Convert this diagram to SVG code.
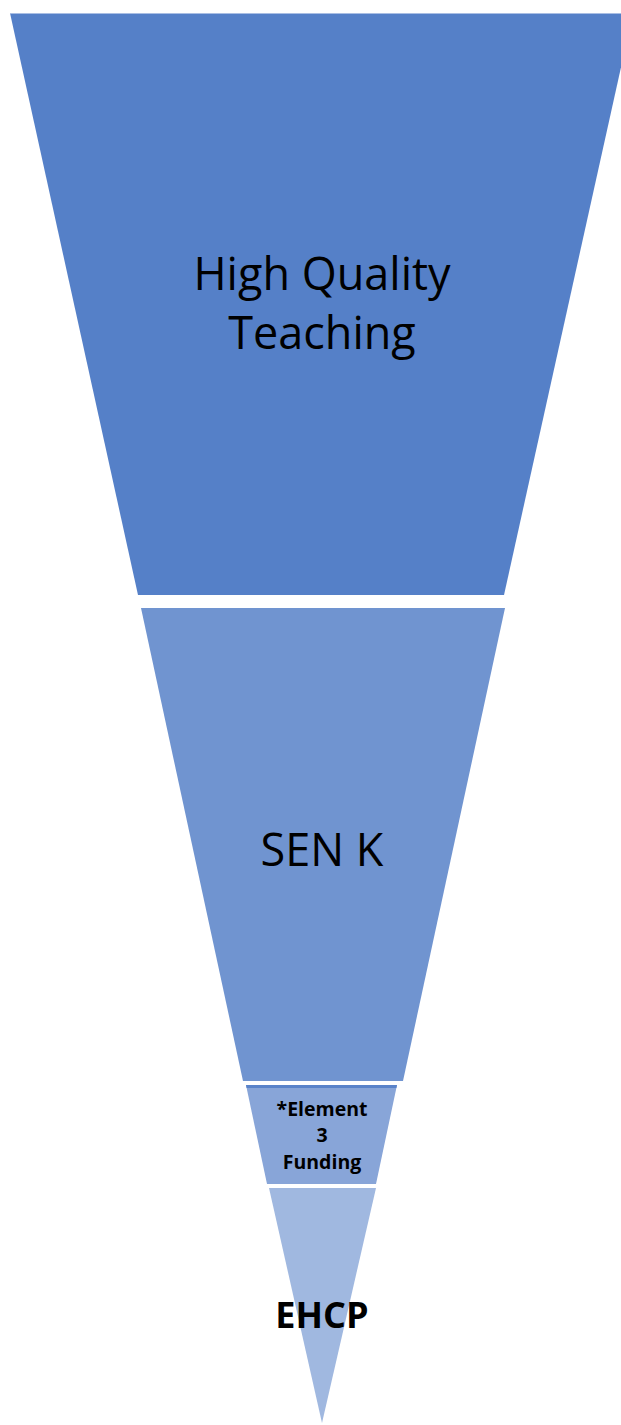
<svg xmlns="http://www.w3.org/2000/svg" width="621" height="1425" viewBox="0 0 621 1425">
<style>
.lbl{font-family:"Open Sans","Liberation Sans",sans-serif;fill:#000;text-anchor:middle}
.b{font-weight:bold}
</style>
<rect width="621" height="1425" fill="#fff"/>
<g id="hqt">
<polygon points="10,13 633,13 504,595 138,595" fill="#5580C8"/>
<line x1="10" y1="13.5" x2="621" y2="13.5" stroke="#A9BEE4" stroke-width="1"/>
<text class="lbl" x="322" y="290" font-size="45">High Quality</text>
<text class="lbl" x="322" y="349" font-size="45">Teaching</text>
</g>
<g id="senk">
<polygon points="141,608 505,608 403,1081 243,1081" fill="#7094D0"/>
<text class="lbl" x="322" y="866" font-size="45">SEN K</text>
</g>
<g id="element3">
<polygon points="246,1085 397,1085 376,1184 267,1184" fill="#88A5D8"/>
<polygon points="246,1085 397,1085 396.4,1088 246.6,1088" fill="#5A83C9"/>
<text class="lbl b" x="322" y="1116" font-size="19.5">*Element</text>
<text class="lbl b" x="322" y="1142" font-size="19.5">3</text>
<text class="lbl b" x="322" y="1169" font-size="19.5">Funding</text>
</g>
<g id="ehcp">
<polygon points="269,1188 376,1188 322,1423" fill="#A0B8E0"/>
<text class="lbl b" x="322" y="1328" font-size="36">EHCP</text>
</g>
<g id="connectors"/>
</svg>
